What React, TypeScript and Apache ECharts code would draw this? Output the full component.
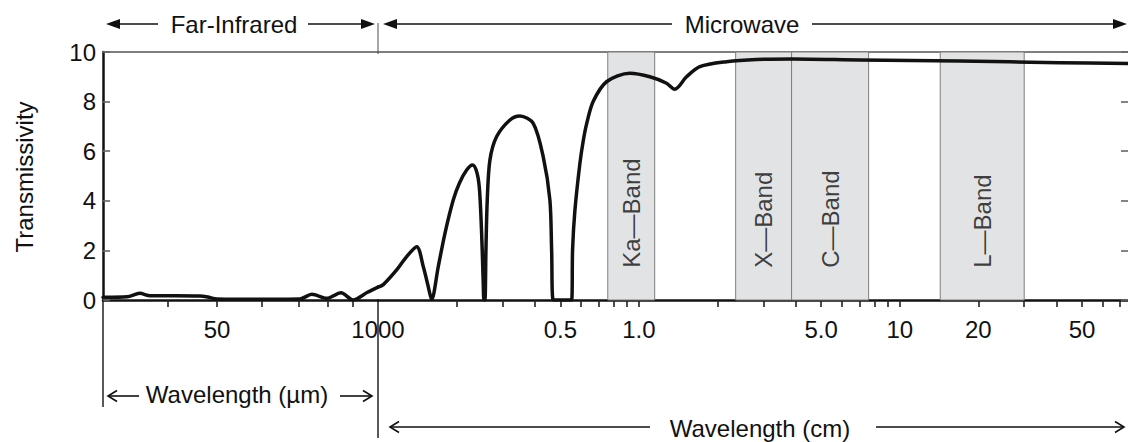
import React, { useEffect, useRef } from "react";
import * as echarts from "echarts";

// ---------- data ----------
// Far-infrared part, wavelength in micrometres
const umWavelengths = [6.0, 6.2, 9.4, 11.9, 14.4, 22.9, 36.4, 42, 50, 76, 134, 234, 292, 387, 502, 628, 815, 1000];
const umTransmissivity = [0.11, 0.11, 0.13, 0.27, 0.17, 0.17, 0.16, 0.12, 0.04, 0.03, 0.03, 0.04, 0.23, 0.07, 0.29, 0.0, 0.3, 0.52];

// Microwave part, wavelength in centimetres
const cmWavelengths = [
  0.1, 0.1048, 0.1179, 0.1288, 0.1407, 0.1492, 0.1558, 0.1606, 0.1702, 0.1806, 0.1943, 0.2049, 0.2187,
  0.2306, 0.2389, 0.2444, 0.2481, 0.2509, 0.2532, 0.2548, 0.257, 0.2593, 0.2623, 0.2686, 0.285, 0.3205,
  0.35, 0.3936, 0.4298, 0.456, 0.463, 0.4696, 0.5523, 0.557, 0.5685, 0.5941, 0.6117, 0.6305, 0.6681,
  0.7518, 0.9236, 1.102, 1.277, 1.373, 1.523, 1.713, 2.168, 2.825, 3.9, 7.03, 16.98, 41, 75,
];
const cmTransmissivity = [
  0.52, 0.62, 1.21, 1.75, 2.15, 1.34, 0.54, 0.02, 1.34, 2.69, 4.03, 4.7, 5.24,
  5.44, 5.17, 4.57, 3.36, 2.02, 0.67, 0, 0, 2.02, 4.03, 5.65, 6.59, 7.26,
  7.42, 7.12, 5.78, 4.03, 2.02, 0, 0, 2.02, 3.6, 5.5, 6.4, 7.1, 8.0,
  8.8, 9.14, 9.0, 8.74, 8.5, 9.0, 9.41, 9.61, 9.7, 9.72, 9.68, 9.64, 9.57, 9.54,
];

const umTickValues = [20, 50, 115, 230, 395, 620];
const umLabelValues = [50, 1000];
const umLabelTexts = ["50", "1000"];

const cmTickValues = [0.2, 0.3, 0.4, 0.5, 0.6, 0.7, 0.8, 0.9, 1, 2, 3, 4, 5, 6, 7, 8, 9, 10, 20, 30, 40, 50, 60, 70];
const cmLabelValues = [0.5, 1, 5, 10, 20, 50];
const cmLabelTexts = ["0.5", "1.0", "5.0", "10", "20", "50"];

const bandNames = ["Ka—Band", "X—Band", "C—Band", "L—Band"];
const bandStart = [0.76, 2.35, 3.85, 14.3];
const bandEnd = [1.15, 3.85, 7.6, 30];
const bandLabelLevel = 1.3;

const umRange = [6, 1000];
const cmRange = [0.1, 75];
const yRange = [0, 10];
const yStep = 2;

// ---------- layout ----------
const W = 1128;
const H = 442;
const PLOT_LEFT = 103;
const SPLIT_X = 378;
const PLOT_TOP = 52;
const PLOT_BOTTOM = 300;
const FONT = '"Liberation Sans", Arial, Helvetica, sans-serif';
const INK = "#111";

function lookupLabel(values: number[], texts: string[]) {
  return (v: number) => {
    for (let i = 0; i < values.length; i++) {
      if (Math.abs(Math.log10(v) - Math.log10(values[i])) < 1e-6) return texts[i];
    }
    return "";
  };
}

function filledArrow(tipX: number, y: number, dir: number) {
  const base = tipX - dir * 14;
  return {
    type: "polygon",
    shape: { points: [[tipX, y], [base, y - 5], [base, y + 5]] },
    style: { fill: INK },
  };
}

function openArrow(tipX: number, y: number, dir: number) {
  const back = tipX - dir * 9;
  return {
    type: "polyline",
    shape: { points: [[back, y - 5.5], [tipX, y], [back, y + 5.5]] },
    style: { stroke: INK, lineWidth: 1.6, fill: null },
  };
}

function hLine(x1: number, x2: number, y: number, w = 1.6, c = INK) {
  return { type: "line", shape: { x1, y1: y, x2, y2: y }, style: { stroke: c, lineWidth: w } };
}
function vLine(x: number, y1: number, y2: number, w = 1.5, c = INK) {
  return { type: "line", shape: { x1: x, y1, x2: x, y2 }, style: { stroke: c, lineWidth: w } };
}
function label(text: string, x: number, y: number, extra: any = {}) {
  return {
    type: "text",
    x,
    y,
    ...extra,
    style: { text, fontSize: 24, fontFamily: FONT, fill: INK, align: "center", verticalAlign: "middle" },
  };
}

export default function App() {
  const ref = useRef<HTMLDivElement>(null);

  useEffect(() => {
    if (!ref.current) return;
    const chart = echarts.init(ref.current, undefined, { renderer: "svg" });

    const axisLineDark = () => ({ show: true, onZero: false, lineStyle: { color: INK, width: 2.5 } });
    const topLine = () => ({ show: true, onZero: false, lineStyle: { color: "#555", width: 1.5 } });
    const xTickStyle = () => ({ color: "#222", width: 1.6 });
    const yTickStyle = () => ({ color: "#666", width: 1.6 });
    const labelStyle = () => ({ fontSize: 24, fontFamily: FONT, color: INK });

    const option: any = {
      animation: false,
      backgroundColor: "#fff",
      grid: [
        { left: PLOT_LEFT, top: PLOT_TOP, width: SPLIT_X - PLOT_LEFT, bottom: H - PLOT_BOTTOM, outerBoundsMode: "none" },
        { left: SPLIT_X, top: PLOT_TOP, right: 0, bottom: H - PLOT_BOTTOM, outerBoundsMode: "none" },
      ],
      xAxis: [
        {
          gridIndex: 0,
          type: "log",
          min: umRange[0],
          max: umRange[1],
          axisLine: axisLineDark(),
          axisTick: { show: true, customValues: umTickValues, length: 7, lineStyle: xTickStyle() },
          axisLabel: { ...labelStyle(), customValues: umLabelValues, margin: 17, formatter: lookupLabel(umLabelValues, umLabelTexts) },
          splitLine: { show: false },
          minorTick: { show: false },
        },
        {
          gridIndex: 1,
          type: "log",
          min: cmRange[0],
          max: cmRange[1],
          axisLine: axisLineDark(),
          axisTick: { show: true, customValues: cmTickValues, length: 7, lineStyle: xTickStyle() },
          axisLabel: { ...labelStyle(), customValues: cmLabelValues, margin: 17, formatter: lookupLabel(cmLabelValues, cmLabelTexts) },
          splitLine: { show: false },
          minorTick: { show: false },
        },
        { gridIndex: 0, type: "value", position: "top", min: 0, max: 1, axisLine: topLine(), axisTick: { show: false }, axisLabel: { show: false }, splitLine: { show: false } },
        { gridIndex: 1, type: "value", position: "top", min: 0, max: 1, axisLine: topLine(), axisTick: { show: false }, axisLabel: { show: false }, splitLine: { show: false } },
      ],
      yAxis: [
        {
          gridIndex: 0,
          type: "value",
          position: "left",
          min: yRange[0],
          max: yRange[1],
          interval: yStep,
          axisLine: axisLineDark(),
          axisTick: { show: true, inside: true, length: 7, lineStyle: yTickStyle() },
          axisLabel: { ...labelStyle(), margin: 7 },
          splitLine: { show: false },
        },
        {
          gridIndex: 1,
          type: "value",
          position: "right",
          min: yRange[0],
          max: yRange[1],
          interval: yStep,
          axisLine: { show: false, onZero: false },
          axisTick: { show: true, inside: true, length: 7, lineStyle: yTickStyle() },
          axisLabel: { show: false },
          splitLine: { show: false },
        },
      ],
      series: [
        {
          name: "bands",
          type: "scatter",
          xAxisIndex: 1,
          yAxisIndex: 1,
          data: [],
          z: 1,
          silent: true,
          markArea: {
            silent: true,
            itemStyle: { color: "#e2e3e5", borderColor: "#7d7d7d", borderWidth: 1 },
            data: bandNames.map((n, i) => [{ xAxis: bandStart[i] }, { xAxis: bandEnd[i] }]),
          },
        },
        {
          name: "bandLabels",
          type: "scatter",
          xAxisIndex: 1,
          yAxisIndex: 1,
          symbolSize: 0,
          z: 4,
          silent: true,
          data: bandNames.map((n, i) => ({ name: n, value: [Math.sqrt(bandStart[i] * bandEnd[i]), bandLabelLevel] })),
          label: {
            show: true,
            position: "inside",
            formatter: "{b}",
            rotate: 90,
            align: "left",
            verticalAlign: "middle",
            fontSize: 24,
            fontFamily: FONT,
            color: INK,
          },
        },
        {
          name: "far-infrared",
          type: "line",
          xAxisIndex: 0,
          yAxisIndex: 0,
          data: umWavelengths.map((x, i) => [x, umTransmissivity[i]]),
          showSymbol: false,
          smooth: 0.3,
          z: 5,
          lineStyle: { color: INK, width: 3.5, cap: "round", join: "round" },
        },
        {
          name: "microwave",
          type: "line",
          xAxisIndex: 1,
          yAxisIndex: 1,
          data: cmWavelengths.map((x, i) => [x, cmTransmissivity[i]]),
          showSymbol: false,
          smooth: 0.3,
          z: 5,
          lineStyle: { color: INK, width: 3.5, cap: "round", join: "round" },
        },
      ],
      graphic: [
        // boundary marks between far-infrared and microwave
        vLine(SPLIT_X, 23, PLOT_TOP + 2, 1.5, "#8a8a8a"),
        vLine(SPLIT_X, PLOT_BOTTOM, 438, 1.5, "#222"),
        vLine(PLOT_LEFT, PLOT_BOTTOM, 407, 1.5, "#222"),
        // top: Far-Infrared
        filledArrow(106, 24, -1),
        hLine(118, 158, 24),
        label("Far-Infrared", 234, 24),
        hLine(308, 364, 24),
        filledArrow(375, 24, 1),
        // top: Microwave
        filledArrow(383, 24, -1),
        hLine(395, 672, 24),
        label("Microwave", 742, 24),
        hLine(812, 1116, 24),
        filledArrow(1127, 24, 1),
        // bottom: Wavelength (µm)
        openArrow(108, 396, -1),
        hLine(108, 139, 396),
        label("Wavelength (µm)", 237, 394),
        hLine(340, 372, 396),
        openArrow(372, 396, 1),
        // bottom: Wavelength (cm)
        openArrow(390, 427, -1),
        hLine(390, 650, 427),
        label("Wavelength (cm)", 760, 428),
        hLine(876, 1124, 427),
        openArrow(1124, 427, 1),
        // y-axis title
        label("Transmissivity", 24, 177, { rotation: Math.PI / 2 }),
      ],
    };

    chart.setOption(option);
    return () => chart.dispose();
  }, []);

  return <div ref={ref} style={{ position: "fixed", left: 0, top: 0, width: W, height: H, background: "#fff" }} />;
}
